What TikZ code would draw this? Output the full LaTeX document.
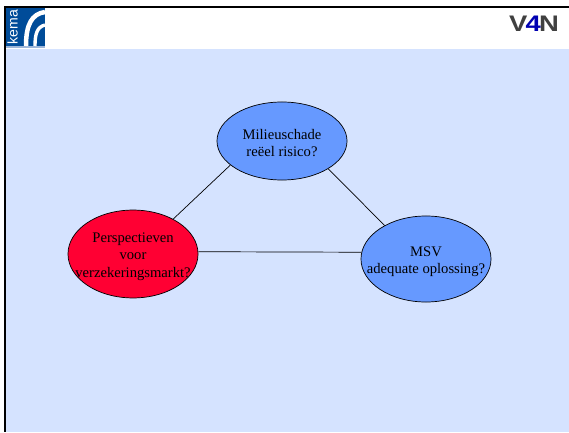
\documentclass[tikz,border=0pt]{standalone}
\usepackage{fontspec}
\setmainfont{Liberation Serif}
\newfontfamily\logofont{Liberation Sans}
\usetikzlibrary{shapes,positioning}
\definecolor{slidebg}{HTML}{D5E3FF}
\definecolor{bubbleblue}{HTML}{6699FF}
\definecolor{bubblered}{HTML}{FF0033}
\definecolor{kemablue}{HTML}{004C99}
\definecolor{kemastrip}{HTML}{9DB6D9}

\begin{document}
\begin{tikzpicture}[
    x=0.025cm, y=-0.025cm,
    bubble/.style={ellipse, draw=black, line width=0.5pt, minimum width=3.25cm, inner xsep=-1cm, align=center, font=\fontsize{10.4}{12.4}\selectfont},
    link/.style={draw=black, line width=0.5pt},
    bar/.style={fill=black}
]

% Slide background
\fill[white] (0,0) rectangle (569,432);
\fill[slidebg] (6,49) rectangle (569,432);
\fill[bar] (4,6) rectangle (569,8);
\fill[bar] (4,6) rectangle (6,432);

% Left logo
\fill[kemablue] (6,8) rectangle (45,46);
\fill[kemastrip] (6,46) rectangle (45,48);
\draw[white, line width=3.2pt] (26,46) .. controls (26,24) and (32,14) .. (45,12);
\draw[white, line width=2.4pt] (35,46) .. controls (35,34) and (37,27) .. (45,25);
\node[white, rotate=90, inner sep=0pt, font=\logofont\fontsize{10}{10}\selectfont] (kema) at (12.5,27) {kema};

% Right logo
\node[font=\logofont\bfseries\fontsize{16}{16}\selectfont, text=black!75, inner sep=0pt, xscale=1.22] (vgn) at (534,24) {V\textcolor{blue!70!black}{\kern-1pt 4\kern-1pt}N};

% Ellipses
\node[bubble, fill=bubbleblue, minimum height=1.95cm] (risk) at (282,141) {\rule{0pt}{10.5pt}Milieuschade\\reëel risico?};
\node[bubble, fill=bubblered, minimum height=2.15cm] (market) at (133,254) {\rule{0pt}{10.5pt}Perspectieven\\voor\\verzekeringsmarkt?};
\node[bubble, fill=bubbleblue, minimum height=2.15cm] (msv) at (426,259) {\rule{0pt}{10.5pt}MSV\\adequate oplossing?};

% Connectors
\draw[link] (risk.205) -- (market.41);
\draw[link] (risk.-31) -- (msv.141);
\draw[link] (market.2) -- (msv.174);

\end{tikzpicture}
\end{document}
